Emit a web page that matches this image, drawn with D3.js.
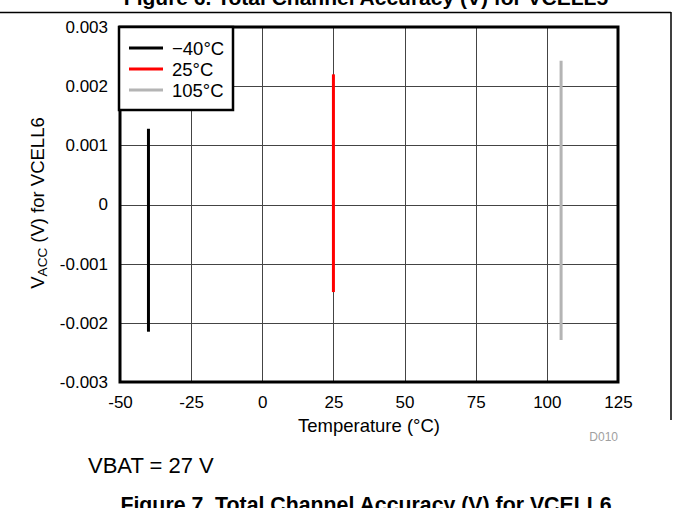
<!DOCTYPE html>
<html><head><meta charset="utf-8">
<script src="https://cdn.jsdelivr.net/npm/d3@7"></script>
<style>body{margin:0;background:#fff}svg{display:block;font-family:"Liberation Sans",Arial,sans-serif}</style>
</head><body>
<script>
const seriesNames = ["\u221240\u00B0C", "25\u00B0C", "105\u00B0C"];
const seriesTemp = [-40, 25, 105];
const seriesMin = [-0.00215, -0.00148, -0.00229];
const seriesMax = [0.00128, 0.00220, 0.00243];
const seriesColors = ["#000000", "#ff0000", "#b4b4b4"];
const xTicks = [-50, -25, 0, 25, 50, 75, 100, 125];
const yTicks = [-0.003, -0.002, -0.001, 0, 0.001, 0.002, 0.003];

const W = 673, H = 508;
const svg = d3.select("body").append("svg").attr("width", W).attr("height", H);
const L = 120, R = 618, T = 27, B = 382;
const x = d3.scaleLinear().domain([-50, 125]).range([L, R]);
const y = d3.scaleLinear().domain([-0.003, 0.003]).range([B, T]);

// frame lines
svg.append("line").attr("x1", 0).attr("x2", 671).attr("y1", 12.5).attr("y2", 12.5).attr("stroke", "#000").attr("stroke-width", 1.5);
svg.append("line").attr("x1", 671).attr("x2", 671).attr("y1", 12).attr("y2", 420).attr("stroke", "#000").attr("stroke-width", 1.5);

// clipped top title
svg.append("text").attr("x", 366).attr("y", 5).attr("text-anchor", "middle").attr("font-weight", "bold").attr("font-size", 21).text("Figure 6. Total Channel Accuracy (V) for VCELL5");

// gridlines
svg.append("g").selectAll("line").data(xTicks.slice(1, -1)).join("line")
  .attr("x1", d => Math.round(x(d)) + 0.5).attr("x2", d => Math.round(x(d)) + 0.5)
  .attr("y1", T).attr("y2", B).attr("stroke", "#444").attr("stroke-width", 1);
svg.append("g").selectAll("line").data(yTicks.slice(1, -1)).join("line")
  .attr("x1", L).attr("x2", R)
  .attr("y1", d => Math.round(y(d)) + 0.5).attr("y2", d => Math.round(y(d)) + 0.5)
  .attr("stroke", "#444").attr("stroke-width", 1);

// axes labels via d3 axes
const xAxis = d3.axisBottom(x).tickValues(xTicks).tickSize(0).tickPadding(14).tickFormat(d => String(d));
const gx = svg.append("g").attr("transform", `translate(0,${B})`).call(xAxis);
gx.select(".domain").remove();
gx.selectAll("text").attr("font-size", 17).attr("font-family", "Liberation Sans, Arial").attr("fill", "#000");

const yAxis = d3.axisLeft(y).tickValues(yTicks).tickSize(0).tickPadding(12)
  .tickFormat(d => Math.abs(d) < 1e-12 ? "0" : (d < 0 ? "-" : "") + Math.abs(d).toFixed(3));
const gy = svg.append("g").attr("transform", `translate(${L},0)`).call(yAxis);
gy.select(".domain").remove();
gy.selectAll("text").attr("font-size", 17).attr("font-family", "Liberation Sans, Arial").attr("fill", "#000");

// data lines
svg.append("g").selectAll("line").data(seriesTemp).join("line")
  .attr("x1", (d) => x(d)).attr("x2", d => x(d))
  .attr("y1", (d, i) => y(seriesMax[i])).attr("y2", (d, i) => y(seriesMin[i]))
  .attr("stroke", (d, i) => seriesColors[i]).attr("stroke-width", 3);

// plot border
svg.append("rect").attr("x", L).attr("y", T).attr("width", R - L).attr("height", B - T)
  .attr("fill", "none").attr("stroke", "#000").attr("stroke-width", 3);

// legend
const lg = svg.append("g");
lg.append("rect").attr("x", 119).attr("y", 27).attr("width", 114).attr("height", 83)
  .attr("fill", "#fff").attr("stroke", "#000").attr("stroke-width", 2.5);
seriesNames.forEach((n, i) => {
  const ly = 48 + i * 21;
  lg.append("line").attr("x1", 129).attr("x2", 163).attr("y1", ly).attr("y2", ly)
    .attr("stroke", seriesColors[i]).attr("stroke-width", 3);
  lg.append("text").attr("x", 172).attr("y", ly + 6.5).attr("font-size", 18.5).text(n);
});

// axis titles
svg.append("text").attr("x", 369).attr("y", 432).attr("text-anchor", "middle").attr("font-size", 18.5).text("Temperature (\u00B0C)");
const yt = svg.append("text").attr("transform", "translate(44,203) rotate(-90)").attr("text-anchor", "middle").attr("font-size", 18.5);
yt.append("tspan").text("V");
yt.append("tspan").attr("font-size", 13.5).attr("dy", 3).text("ACC");
yt.append("tspan").attr("dy", -3).text(" (V) for VCELL6");

svg.append("text").attr("x", 618).attr("y", 441).attr("text-anchor", "end").attr("font-size", 12).attr("fill", "#a0a0a0").text("D010");
svg.append("text").attr("x", 88).attr("y", 473).attr("font-size", 22).text("VBAT = 27 V");
svg.append("text").attr("x", 366).attr("y", 512).attr("text-anchor", "middle").attr("font-weight", "bold").attr("font-size", 21.3).text("Figure 7. Total Channel Accuracy (V) for VCELL6");
</script>
</body></html>
